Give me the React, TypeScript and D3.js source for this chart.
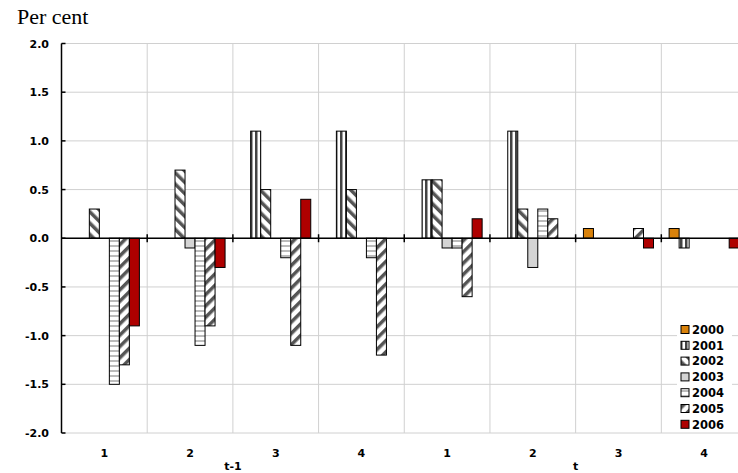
import React from "react";
import * as d3 from "d3";

const groups = ["1", "2", "3", "4", "1", "2", "3", "4"];
const series = ["2000", "2001", "2002", "2003", "2004", "2005", "2006"];
const v2000 = [0, 0, 0, 0, 0, 0, 0.1, 0.1];
const v2001 = [0, 0, 1.1, 1.1, 0.6, 1.1, 0, -0.1];
const v2002 = [0.3, 0.7, 0.5, 0.5, 0.6, 0.3, 0, 0];
const v2003 = [0, -0.1, 0, 0, -0.1, -0.3, 0, 0];
const v2004 = [-1.5, -1.1, -0.2, -0.2, -0.1, 0.3, 0, 0];
const v2005 = [-1.3, -0.9, -1.1, -1.2, -0.6, 0.2, 0.1, 0];
const v2006 = [-0.9, -0.3, 0.4, 0, 0.2, 0, -0.1, -0.1];
const values = [v2000, v2001, v2002, v2003, v2004, v2005, v2006];
const yTicks = [-2.0, -1.5, -1.0, -0.5, 0.0, 0.5, 1.0, 1.5, 2.0];
const periodLabels = ["t-1", "t"];

const fills = [
  "#D9820B",
  "url(#p2001)",
  "url(#p2002)",
  "#D4D4D4",
  "url(#p2004)",
  "url(#p2005)",
  "#AE0000",
];

export default function App() {
  const left = 61.5;
  const right = 747;
  const top = 43.5;
  const bottom = 433;
  const x0 = d3
    .scaleBand<number>()
    .domain(d3.range(groups.length))
    .range([left, right])
    .paddingInner(0)
    .paddingOuter(0);
  const x1 = d3
    .scaleBand<string>()
    .domain(series)
    .range([0, x0.bandwidth()])
    .paddingInner(0)
    .paddingOuter(0.78);
  const y = d3.scaleLinear().domain([-2, 2]).range([bottom, top]);
  const font = "'DejaVu Sans', Verdana, sans-serif";
  const boundaries = d3.range(groups.length + 1).map((i) => left + i * x0.step());

  return (
    <div style={{ position: "absolute", left: 0, top: 0 }}>
      <svg width={738} height={473} style={{ display: "block", background: "#fff" }}>
        <defs>
          <pattern id="p2001" patternUnits="userSpaceOnUse" width={5} height={10}>
            <rect width={5} height={10} fill="#fff" />
            <rect x={0} width={2.5} height={10} fill="#444" />
          </pattern>
          <pattern id="p2002" patternUnits="userSpaceOnUse" width={8} height={8} patternTransform="rotate(-45)">
            <rect width={8} height={8} fill="#fff" />
            <rect x={0} width={3.5} height={8} fill="#555" />
          </pattern>
          <pattern id="p2005" patternUnits="userSpaceOnUse" width={8} height={8} patternTransform="rotate(45)">
            <rect width={8} height={8} fill="#fff" />
            <rect x={0} width={3.5} height={8} fill="#555" />
          </pattern>
          <pattern id="p2004" patternUnits="userSpaceOnUse" width={10} height={5}>
            <rect width={10} height={5} fill="#fff" />
            <rect y={0} width={10} height={2} fill="#bbb" />
          </pattern>
        </defs>

        <text x={17} y={24} fontFamily="'Liberation Serif', 'Times New Roman', serif" fontSize={22}>
          Per cent
        </text>

        {/* horizontal gridlines */}
        {yTicks.map((t) => (
          <line key={"h" + t} x1={left} x2={right} y1={y(t)} y2={y(t)} stroke="#d0d0d0" strokeWidth={1} />
        ))}
        {/* vertical gridlines */}
        {boundaries.slice(1).map((bx, i) => (
          <line key={"v" + i} x1={bx} x2={bx} y1={top} y2={bottom} stroke="#d0d0d0" strokeWidth={1} />
        ))}

        {/* bars */}
        {series.map((s, si) =>
          values[si].map((v, gi) =>
            v === 0 ? null : (
              <rect
                key={s + "-" + gi}
                x={(x0(gi) as number) + (x1(s) as number)}
                y={y(Math.max(0, v))}
                width={x1.bandwidth()}
                height={Math.abs(y(v) - y(0))}
                fill={fills[si]}
                stroke="#000"
                strokeWidth={1}
              />
            )
          )
        )}

        {/* zero line and ticks */}
        <line x1={left} x2={right} y1={y(0)} y2={y(0)} stroke="#000" strokeWidth={1.5} />
        {boundaries.slice(1).map((bx, i) => (
          <line key={"xt" + i} x1={bx} x2={bx} y1={y(0) - 4} y2={y(0) + 4} stroke="#000" strokeWidth={1.5} />
        ))}

        {/* y axis */}
        <line x1={left} x2={left} y1={top} y2={bottom} stroke="#000" strokeWidth={1.5} />
        {yTicks.map((t) => (
          <g key={"yt" + t}>
            <line x1={left} x2={left + 4} y1={y(t)} y2={y(t)} stroke="#000" strokeWidth={1.5} />
            <text
              x={49}
              y={y(t) + 4}
              textAnchor="end"
              fontFamily={font}
              fontWeight="bold"
              fontSize={11}
            >
              {t.toFixed(1)}
            </text>
          </g>
        ))}

        {/* x labels */}
        {groups.map((g, i) => (
          <text
            key={"xl" + i}
            x={(x0(i) as number) + x0.bandwidth() / 2}
            y={457}
            textAnchor="middle"
            fontFamily={font}
            fontWeight="bold"
            fontSize={11}
          >
            {g}
          </text>
        ))}
        {periodLabels.map((p, i) => (
          <text
            key={"pl" + i}
            x={boundaries[2 + i * 4]}
            y={470}
            textAnchor="middle"
            fontFamily={font}
            fontWeight="bold"
            fontSize={11}
          >
            {p}
          </text>
        ))}

        {/* legend */}
        <rect x={677} y={318} width={55} height={113} fill="#fff" />
        {series.map((s, i) => {
          const cy = 329.5 + i * 15.8;
          return (
            <g key={"lg" + s}>
              <rect x={681} y={cy - 4} width={8} height={8} fill={fills[i]} stroke="#000" strokeWidth={1} />
              <text x={692} y={cy + 4.2} fontFamily={font} fontWeight="bold" fontSize={11.5}>
                {s}
              </text>
            </g>
          );
        })}
      </svg>
    </div>
  );
}
